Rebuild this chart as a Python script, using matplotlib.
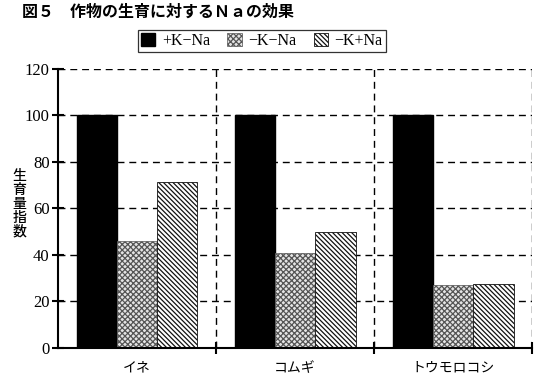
import matplotlib
matplotlib.use('Agg')
import matplotlib.pyplot as plt
import numpy as np

plt.rcParams['hatch.linewidth'] = 0.9

crops = ['イネ', 'コムギ', 'トウモロコシ']
series = ['+K\u2212Na', '\u2212K\u2212Na', '\u2212K+Na']
plus_k_minus_na = [100, 100, 100]
minus_k_minus_na = [46, 41, 27]
minus_k_plus_na = [71.5, 50, 27.5]
yticks = [0, 20, 40, 60, 80, 100, 120]

jp = ['Noto Sans CJK JP', 'DejaVu Sans']
serif = ['Liberation Serif', 'DejaVu Serif']

fig = plt.figure(figsize=(5.45, 3.81), dpi=100)
ax = fig.add_axes([0.1064, 0.0866, 0.8700, 0.7324])

x = np.arange(len(crops)) + 0.5
w = 0.255
ax.bar(x - w, plus_k_minus_na, w, color='black', edgecolor='black', label=series[0])
ax.bar(x, minus_k_minus_na, w, color='#e4e4e4', edgecolor='#555555', hatch='xxxxxx',
       linewidth=0.5, label=series[1])
ax.bar(x + w, minus_k_plus_na, w, color='white', edgecolor='#111111', hatch='\\\\\\\\\\\\\\',
       linewidth=0.6, label=series[2])

ax.set_xlim(0, 3)
ax.set_ylim(0, 120)
ax.set_yticks(yticks)
ax.set_yticklabels([str(v) for v in yticks], family=serif, fontsize=12)
ax.set_xticks([1, 2, 3])
ax.set_xticklabels([])
for xi, name in zip(x, crops):
    ax.text(xi, -5.5, name, ha='center', va='top', family=jp, fontsize=10)

for v in yticks[1:]:
    ax.axhline(v, color='black', lw=1.0, ls=(0, (5, 3.5)), zorder=0)
for v in [1, 2, 3]:
    ax.axvline(v, color='black', lw=1.0, ls=(0, (5, 3.5)), zorder=0)

for s in ['top', 'right']:
    ax.spines[s].set_visible(False)
ax.spines['left'].set_linewidth(1.5)
ax.spines['bottom'].set_linewidth(1.5)
ax.tick_params(axis='both', direction='inout', length=8, width=1.5, pad=2)

fig.text(0.035, 0.465, '生\n育\n量\n指\n数', family=jp, fontsize=10, fontweight='medium',
         ha='center', va='center', linespacing=1.0)

fig.text(0.04, 0.968, '図５　作物の生育に対するＮａの効果', family=jp, fontsize=11.5,
         fontweight='bold', ha='left', va='center')

leg = ax.legend(loc='center', bbox_to_anchor=(0.43, 1.10), ncol=3, frameon=True,
                fancybox=False, edgecolor='black', handlelength=0.9, handleheight=0.9,
                handletextpad=0.4, columnspacing=1.1, borderpad=0.2, borderaxespad=0,
                prop={'family': serif, 'size': 11.5})
leg.get_frame().set_linewidth(0.9)

fig.savefig('out.png', dpi=100)
